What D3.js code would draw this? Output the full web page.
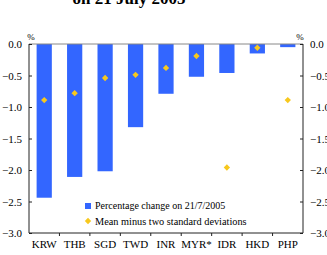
<!DOCTYPE html>
<html>
<head>
<meta charset="utf-8">
<script src="https://cdn.jsdelivr.net/npm/d3@7"></script>
<style>
  body { margin: 0; background: #fff; }
  svg { display: block; font-family: "Liberation Serif", "Times New Roman", serif; }
</style>
</head>
<body>
<div id="chart"></div>
<script>
let categories = ["KRW", "THB", "SGD", "TWD", "INR", "MYR*", "IDR", "HKD", "PHP"];
let changeValues = [-2.44, -2.11, -2.02, -1.32, -0.79, -0.52, -0.46, -0.15, -0.05];
let thresholdValues = [-0.89, -0.78, -0.54, -0.49, -0.38, -0.19, -1.96, -0.06, -0.89];
let yTicks = [0, -0.5, -1, -1.5, -2, -2.5, -3];

const width = 327;
const height = 255;
const blue = "#3366ff";
const gold = "#f7c81e";

const svg = d3.select("#chart").append("svg")
  .attr("width", width)
  .attr("height", height);

const x = d3.scaleBand().domain(categories).range([29, 303]).paddingInner(0.5).paddingOuter(0.25);
const xb = d3.scaleBand().domain(categories).range([29, 303]);
const y = d3.scaleLinear().domain([-3, 0]).range([233, 44]);

// title (partly cut off)
svg.append("text")
  .attr("x", 129).attr("y", 4)
  .attr("text-anchor", "middle")
  .style("font-weight", "bold")
  .style("font-size", "17px")
  .text("on 21 July 2005");

// bars
svg.append("g").selectAll("rect")
  .data(categories)
  .join("rect")
  .attr("x", (d) => x(d))
  .attr("width", x.bandwidth())
  .attr("y", y(0))
  .attr("height", (d, i) => y(changeValues[i]) - y(0))
  .attr("fill", blue);

// diamonds
const diamond = d3.symbol().type(d3.symbolSquare).size(20);
svg.append("g").selectAll("path")
  .data(categories)
  .join("path")
  .attr("d", diamond)
  .attr("transform", (d, i) => `translate(${xb(d) + xb.bandwidth() / 2},${y(thresholdValues[i])}) rotate(45)`)
  .attr("fill", gold);

// top frame line
svg.append("line")
  .attr("x1", 29).attr("x2", 303)
  .attr("y1", y(0)).attr("y2", y(0))
  .attr("stroke", "#888").attr("stroke-width", 1);

const fmt = d3.format(".1f");

// left axis
const left = svg.append("g")
  .attr("transform", "translate(29,0)")
  .call(d3.axisRight(y).tickValues(yTicks).tickSize(3).tickFormat(""));
left.select(".domain").remove();
left.append("line").attr("y1", 44).attr("y2", 233).attr("stroke", "#222");
left.selectAll("line").attr("stroke", "#222");
svg.append("g").selectAll("text")
  .data(yTicks)
  .join("text")
  .attr("x", 22).attr("y", (d) => y(d) + 4)
  .attr("text-anchor", "end")
  .style("font-size", "11px")
  .text((d) => fmt(d));

// right axis
const right = svg.append("g")
  .attr("transform", "translate(303,0)")
  .call(d3.axisLeft(y).tickValues(yTicks).tickSize(3).tickFormat(""));
right.select(".domain").remove();
right.append("line").attr("y1", 44).attr("y2", 233).attr("stroke", "#222");
right.selectAll("line").attr("stroke", "#222");
svg.append("g").selectAll("text")
  .data(yTicks)
  .join("text")
  .attr("x", 310).attr("y", (d) => y(d) + 4)
  .attr("text-anchor", "start")
  .style("font-size", "11px")
  .text((d) => fmt(d));

// bottom axis, ticks between categories pointing down
const bottom = svg.append("g").attr("transform", "translate(0,233)");
bottom.append("line").attr("x1", 29).attr("x2", 303).attr("stroke", "#222");
bottom.selectAll(".tk")
  .data(categories.slice(1))
  .join("line")
  .attr("x1", (d) => xb(d)).attr("x2", (d) => xb(d))
  .attr("y1", 0).attr("y2", 3)
  .attr("stroke", "#222");
bottom.selectAll("text")
  .data(categories)
  .join("text")
  .attr("x", (d) => xb(d) + xb.bandwidth() / 2)
  .attr("y", 15)
  .attr("text-anchor", "middle")
  .style("font-size", "11px")
  .text((d) => d);

// % units
svg.append("text").attr("x", 31).attr("y", 40).attr("text-anchor", "middle").style("font-size", "9px").text("%");
svg.append("text").attr("x", 300).attr("y", 40).attr("text-anchor", "middle").style("font-size", "9px").text("%");

// legend
const legend = svg.append("g");
legend.append("rect").attr("x", 85).attr("y", 203).attr("width", 6).attr("height", 6).attr("fill", blue);
legend.append("text").attr("x", 95).attr("y", 209).style("font-size", "10px").text("Percentage change on 21/7/2005");
legend.append("path").attr("d", diamond).attr("transform", "translate(88,221) rotate(45)").attr("fill", gold);
legend.append("text").attr("x", 95).attr("y", 225).style("font-size", "10.3px").text("Mean minus two standard deviations");
</script>
</body>
</html>
